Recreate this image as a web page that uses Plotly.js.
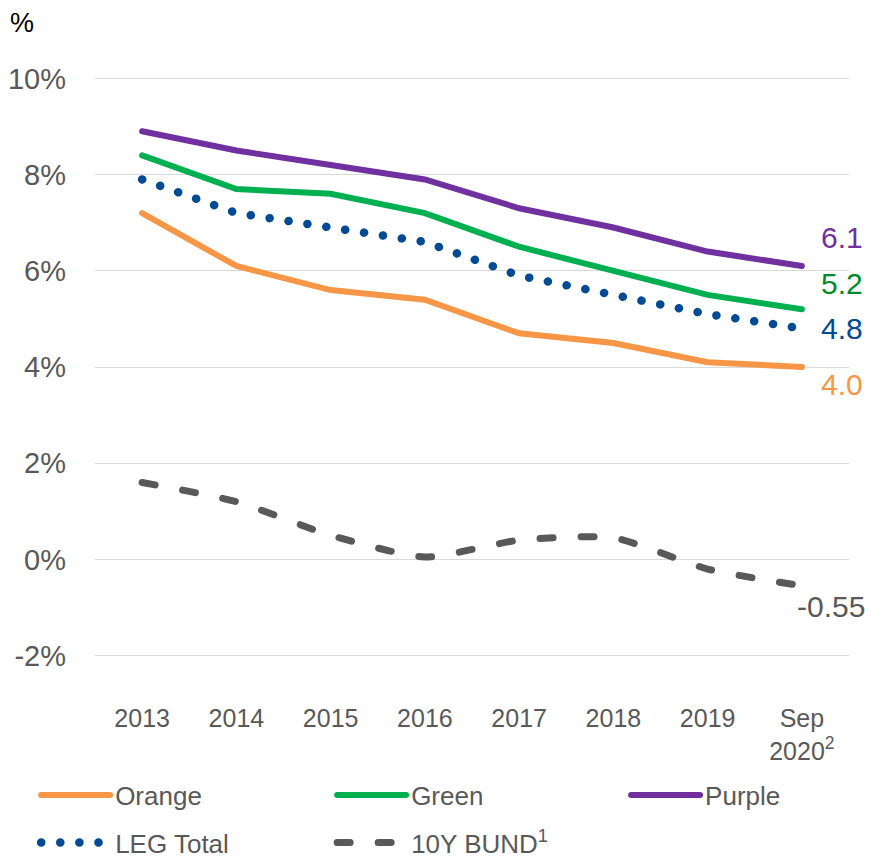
<!DOCTYPE html>
<html>
<head>
<meta charset="utf-8">
<script src="https://cdn.plot.ly/plotly-3.0.1.min.js"></script>
<style>
  html, body { margin: 0; padding: 0; background: #fff; }
  #chart { width: 871px; height: 858px; }
  .js-line { stroke-linecap: round; }
</style>
</head>
<body>
<div id="chart"></div>
<script>
// ---- data ----
const categories = ["2013", "2014", "2015", "2016", "2017", "2018", "2019", "Sep<br>2020<sup>2</sup>"];
const orange   = [7.2, 6.1, 5.6, 5.4, 4.7, 4.5, 4.1, 4.0];
const green    = [8.4, 7.7, 7.6, 7.2, 6.5, 6.0, 5.5, 5.2];
const purple   = [8.9, 8.5, 8.2, 7.9, 7.3, 6.9, 6.4, 6.1];
const legTotal = [7.9, 7.2, 6.9, 6.6, 5.9, 5.5, 5.1, 4.8];
const bund10y  = [1.6, 1.2, 0.5, 0.05, 0.4, 0.45, -0.2, -0.55];
const yTickVals = [-2, 0, 2, 4, 6, 8, 10];
const yTickText = ["-2%", "0%", "2%", "4%", "6%", "8%", "10%"];
const endLabels = ["4.0", "5.2", "6.1", "4.8", "-0.55"];

const C = {
  orange: "#F79646", green: "#00B050", purple: "#7030A0",
  blue: "#004B93", gray: "#595959", greenText: "#008A2E"
};
const FONT = "Liberation Sans, Arial, sans-serif";

const traces = [
  { name: "10Y BUND<sup>1</sup>", x: categories, y: bund10y, type: "scatter", mode: "lines",
    line: { color: C.gray, width: 7, dash: "13px,28px", shape: "spline", smoothing: 0.6 },
    legend: "legend2", legendrank: 2, hoverinfo: "skip" },
  { name: "Orange", x: categories, y: orange, type: "scatter", mode: "lines",
    line: { color: C.orange, width: 6 }, legendrank: 1, hoverinfo: "skip" },
  { name: "Green", x: categories, y: green, type: "scatter", mode: "lines",
    line: { color: C.green, width: 6 }, legendrank: 2, hoverinfo: "skip" },
  { name: "Purple", x: categories, y: purple, type: "scatter", mode: "lines",
    line: { color: C.purple, width: 6 }, legend: "legend3", hoverinfo: "skip" },
  { name: "LEG Total", x: categories, y: legTotal, type: "scatter", mode: "lines",
    line: { color: C.blue, width: 8.5, dash: "0.1px,19px" },
    legend: "legend2", legendrank: 1, hoverinfo: "skip" }
];

const last = categories.length - 1;
const annColors = [C.orange, C.greenText, C.purple, C.blue, C.gray];
const annValues = [orange[last], green[last], purple[last], legTotal[last], bund10y[last]];
const annYShift = [-17, 26, 28, 0, -21];
const annXShift = [17, 17, 17, 17, -7];

const annotations = endLabels.map((t, i) => ({
  x: last, y: annValues[i], xref: "x", yref: "y", text: t, showarrow: false,
  xanchor: "left", yanchor: "middle", xshift: annXShift[i], yshift: annYShift[i],
  font: { family: FONT, size: 30, color: annColors[i] }
}));
annotations.push({
  x: -0.115, y: 1.12, xref: "paper", yref: "paper", text: "%", showarrow: false,
  xanchor: "left", yanchor: "top", font: { family: FONT, size: 27, color: "#000" }
});

const legendCommon = {
  orientation: "h", xref: "container", yref: "container", x: 0.0415,
  xanchor: "left", yanchor: "middle", entrywidth: 212, entrywidthmode: "pixels",
  itemwidth: 69, font: { family: FONT, size: 26, color: C.gray },
  bgcolor: "rgba(0,0,0,0)", traceorder: "normal"
};

const layout = {
  width: 871, height: 858,
  margin: { l: 95, r: 22, t: 76, b: 200 },
  paper_bgcolor: "#fff", plot_bgcolor: "#fff",
  showlegend: true,
  font: { family: FONT, color: C.gray },
  xaxis: {
    type: "category", range: [-0.5, 7.5], showgrid: false, zeroline: false,
    showline: false, ticks: "", tickfont: { family: FONT, size: 25, color: C.gray },
    ticklabelstandoff: 43
  },
  yaxis: {
    range: [-2.05, 10.05], tickmode: "array", tickvals: yTickVals, ticktext: yTickText,
    showgrid: true, gridcolor: "#D9D9D9", gridwidth: 1, zeroline: false, showline: false,
    ticks: "", tickfont: { family: FONT, size: 29, color: C.gray }, ticklabelstandoff: 28
  },
  legend: Object.assign({}, legendCommon, { y: 0.0734 }),
  legend2: Object.assign({}, legendCommon, { y: 0.018 }),
  legend3: Object.assign({}, legendCommon, { y: 0.0734, x: 0.7188, entrywidth: 110 }),
  annotations: annotations
};

Plotly.newPlot("chart", traces, layout, { staticPlot: true, displayModeBar: false });
</script>
</body>
</html>
